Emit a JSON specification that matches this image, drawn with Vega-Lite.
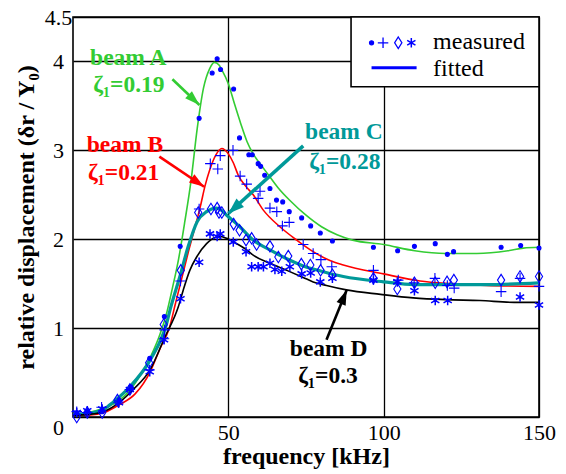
{
  "$schema": "https://vega.github.io/schema/vega-lite/v6.json",
  "width": 466,
  "height": 400,
  "autosize": {"type": "none"},
  "padding": {"left": 73, "top": 17, "right": 27, "bottom": 57},
  "background": "white",
  "config": {
    "font": "'Liberation Serif', 'Times New Roman', Times, 'DejaVu Serif', serif",
    "view": {"stroke": "#000", "strokeWidth": 1.6},
    "axis": {
      "labelFont": "'Liberation Serif', 'Times New Roman', Times, 'DejaVu Serif', serif", "labelFontSize": 22, "labelColor": "#000",
      "titleFont": "'Liberation Serif', 'Times New Roman', Times, 'DejaVu Serif', serif", "titleFontSize": 24, "titleFontWeight": "bold", "titleColor": "#000",
      "grid": true, "gridColor": "#000", "gridWidth": 1.3, "gridOpacity": 1,
      "ticks": false, "domain": false, "labelFlush": false, "labelOverlap": false
    }
  },
  "datasets": {
    "fitted": [
      {"beam":"A","f":0,"y":0.03},{"beam":"A","f":5,"y":0.05},{"beam":"A","f":10,"y":0.1},{"beam":"A","f":15,"y":0.19},{"beam":"A","f":20,"y":0.38},{"beam":"A","f":25,"y":0.68},{"beam":"A","f":28,"y":0.93},{"beam":"A","f":30,"y":1.15},{"beam":"A","f":32,"y":1.45},{"beam":"A","f":34,"y":1.78},{"beam":"A","f":36,"y":2.2},{"beam":"A","f":38,"y":2.66},{"beam":"A","f":40,"y":3.25},{"beam":"A","f":42,"y":3.7},{"beam":"A","f":44,"y":3.92},{"beam":"A","f":45.5,"y":3.99},{"beam":"A","f":47,"y":3.96},{"beam":"A","f":48,"y":3.9},{"beam":"A","f":50,"y":3.75},{"beam":"A","f":52,"y":3.52},{"beam":"A","f":54,"y":3.3},{"beam":"A","f":56,"y":3.1},{"beam":"A","f":58,"y":2.96},{"beam":"A","f":60,"y":2.86},{"beam":"A","f":63,"y":2.72},{"beam":"A","f":66,"y":2.58},{"beam":"A","f":70,"y":2.43},{"beam":"A","f":75,"y":2.27},{"beam":"A","f":80,"y":2.14},{"beam":"A","f":85,"y":2.05},{"beam":"A","f":90,"y":1.99},{"beam":"A","f":100,"y":1.94},{"beam":"A","f":110,"y":1.87},{"beam":"A","f":120,"y":1.84},{"beam":"A","f":130,"y":1.84},{"beam":"A","f":140,"y":1.87},{"beam":"A","f":145,"y":1.9},{"beam":"A","f":150,"y":1.91},
      {"beam":"B","f":0,"y":0.02},{"beam":"B","f":5,"y":0.02},{"beam":"B","f":10,"y":0.05},{"beam":"B","f":15,"y":0.14},{"beam":"B","f":20,"y":0.26},{"beam":"B","f":25,"y":0.52},{"beam":"B","f":28,"y":0.77},{"beam":"B","f":31,"y":1.0},{"beam":"B","f":33,"y":1.28},{"beam":"B","f":35,"y":1.56},{"beam":"B","f":37,"y":1.84},{"beam":"B","f":39,"y":2.1},{"beam":"B","f":41,"y":2.37},{"beam":"B","f":42.5,"y":2.6},{"beam":"B","f":44,"y":2.78},{"beam":"B","f":46,"y":2.95},{"beam":"B","f":47.9,"y":3.02},{"beam":"B","f":50,"y":2.96},{"beam":"B","f":51.6,"y":2.86},{"beam":"B","f":53.2,"y":2.72},{"beam":"B","f":55.5,"y":2.6},{"beam":"B","f":58,"y":2.5},{"beam":"B","f":61.2,"y":2.33},{"beam":"B","f":66.6,"y":2.14},{"beam":"B","f":72,"y":1.99},{"beam":"B","f":77.3,"y":1.86},{"beam":"B","f":82.7,"y":1.76},{"beam":"B","f":87,"y":1.71},{"beam":"B","f":100,"y":1.61},{"beam":"B","f":111.7,"y":1.53},{"beam":"B","f":122,"y":1.5},{"beam":"B","f":133,"y":1.48},{"beam":"B","f":150,"y":1.47},
      {"beam":"C","f":0,"y":0.03},{"beam":"C","f":5,"y":0.04},{"beam":"C","f":10,"y":0.09},{"beam":"C","f":13,"y":0.17},{"beam":"C","f":18.3,"y":0.34},{"beam":"C","f":24.8,"y":0.64},{"beam":"C","f":30.2,"y":1.06},{"beam":"C","f":31.2,"y":1.2},{"beam":"C","f":34.4,"y":1.58},{"beam":"C","f":37.1,"y":1.92},{"beam":"C","f":40,"y":2.2},{"beam":"C","f":43,"y":2.31},{"beam":"C","f":46.2,"y":2.35},{"beam":"C","f":48,"y":2.32},{"beam":"C","f":49.5,"y":2.27},{"beam":"C","f":53.7,"y":2.14},{"beam":"C","f":58,"y":1.99},{"beam":"C","f":63.4,"y":1.88},{"beam":"C","f":68.8,"y":1.78},{"beam":"C","f":74.1,"y":1.7},{"beam":"C","f":80,"y":1.64},{"beam":"C","f":87,"y":1.58},{"beam":"C","f":100,"y":1.52},{"beam":"C","f":110,"y":1.49},{"beam":"C","f":133,"y":1.49},{"beam":"C","f":150,"y":1.51},
      {"beam":"D","f":0,"y":0.02},{"beam":"D","f":5,"y":0.03},{"beam":"D","f":9.8,"y":0.06},{"beam":"D","f":15.1,"y":0.17},{"beam":"D","f":19.4,"y":0.31},{"beam":"D","f":24.8,"y":0.53},{"beam":"D","f":29.6,"y":0.9},{"beam":"D","f":33.9,"y":1.24},{"beam":"D","f":35.5,"y":1.43},{"beam":"D","f":37.6,"y":1.65},{"beam":"D","f":39.8,"y":1.8},{"beam":"D","f":43,"y":1.95},{"beam":"D","f":45.7,"y":2.02},{"beam":"D","f":47.5,"y":2.03},{"beam":"D","f":49.5,"y":2.01},{"beam":"D","f":51.6,"y":1.97},{"beam":"D","f":55.9,"y":1.88},{"beam":"D","f":58,"y":1.82},{"beam":"D","f":63.4,"y":1.73},{"beam":"D","f":68.8,"y":1.65},{"beam":"D","f":74.1,"y":1.57},{"beam":"D","f":77.3,"y":1.52},{"beam":"D","f":81.6,"y":1.48},{"beam":"D","f":88,"y":1.43},{"beam":"D","f":99,"y":1.38},{"beam":"D","f":109.5,"y":1.34},{"beam":"D","f":120,"y":1.32},{"beam":"D","f":131,"y":1.31},{"beam":"D","f":142,"y":1.29},{"beam":"D","f":150,"y":1.29}
    ],
    "measured": [
      {"beam":"A","f":1.2,"y":0.05},{"beam":"A","f":4.6,"y":0.06},{"beam":"A","f":9.4,"y":0.06},{"beam":"A","f":14.8,"y":0.19},{"beam":"A","f":18.6,"y":0.34},{"beam":"A","f":24.7,"y":0.66},{"beam":"A","f":29.4,"y":1.13},{"beam":"A","f":34.5,"y":1.92},{"beam":"A","f":40.6,"y":3.36},{"beam":"A","f":44.8,"y":3.87},{"beam":"A","f":46.4,"y":4.03},{"beam":"A","f":47.5,"y":3.91},{"beam":"A","f":51.7,"y":3.69},{"beam":"A","f":53.6,"y":3.14},{"beam":"A","f":56.6,"y":2.95},{"beam":"A","f":57.7,"y":2.95},{"beam":"A","f":59.6,"y":2.85},{"beam":"A","f":60.4,"y":2.82},{"beam":"A","f":61.7,"y":2.72},{"beam":"A","f":63.4,"y":2.57},{"beam":"A","f":65.5,"y":2.44},{"beam":"A","f":67.5,"y":2.42},{"beam":"A","f":69.6,"y":2.31},{"beam":"A","f":73.6,"y":2.24},{"beam":"A","f":76.5,"y":2.15},{"beam":"A","f":79.6,"y":2.07},{"beam":"A","f":83.5,"y":1.98},{"beam":"A","f":96.7,"y":1.91},{"beam":"A","f":104.5,"y":1.87},{"beam":"A","f":109.9,"y":1.92},{"beam":"A","f":116.6,"y":1.95},{"beam":"A","f":120.5,"y":1.83},{"beam":"A","f":122.5,"y":1.86},{"beam":"A","f":137.8,"y":1.91},{"beam":"A","f":144.1,"y":1.93},{"beam":"A","f":150,"y":1.9},
      {"beam":"B","f":1.2,"y":0.06},{"beam":"B","f":4.6,"y":0.05},{"beam":"B","f":9.2,"y":0.11},{"beam":"B","f":14.6,"y":0.16},{"beam":"B","f":18.3,"y":0.31},{"beam":"B","f":24.6,"y":0.53},{"beam":"B","f":29.3,"y":0.88},{"beam":"B","f":29.5,"y":0.98},{"beam":"B","f":34.6,"y":1.53},{"beam":"B","f":40.6,"y":2.34},{"beam":"B","f":44.2,"y":2.85},{"beam":"B","f":46.6,"y":2.79},{"beam":"B","f":47.4,"y":2.94},{"beam":"B","f":51.5,"y":3.0},{"beam":"B","f":53.8,"y":2.71},{"beam":"B","f":55.9,"y":2.62},{"beam":"B","f":59.6,"y":2.46},{"beam":"B","f":60.2,"y":2.54},{"beam":"B","f":63.4,"y":2.35},{"beam":"B","f":65.6,"y":2.31},{"beam":"B","f":67.4,"y":2.15},{"beam":"B","f":69.6,"y":2.19},{"beam":"B","f":74.1,"y":1.94},{"beam":"B","f":77.3,"y":1.84},{"beam":"B","f":79.8,"y":1.77},{"beam":"B","f":83.3,"y":1.69},{"beam":"B","f":96.7,"y":1.65},{"beam":"B","f":104.7,"y":1.54},{"beam":"B","f":109.8,"y":1.51},{"beam":"B","f":116.5,"y":1.56},{"beam":"B","f":120.5,"y":1.48},{"beam":"B","f":122.7,"y":1.45},{"beam":"B","f":137.8,"y":1.41},{"beam":"B","f":143.9,"y":1.56},{"beam":"B","f":150,"y":1.47},
      {"beam":"C","f":1.2,"y":0.0},{"beam":"C","f":4.6,"y":0.05},{"beam":"C","f":9.4,"y":0.05},{"beam":"C","f":14.3,"y":0.19},{"beam":"C","f":18.3,"y":0.31},{"beam":"C","f":24.5,"y":0.61},{"beam":"C","f":29.2,"y":1.04},{"beam":"C","f":34.7,"y":1.65},{"beam":"C","f":40.3,"y":2.3},{"beam":"C","f":44.4,"y":2.34},{"beam":"C","f":46.4,"y":2.35},{"beam":"C","f":47.0,"y":2.3},{"beam":"C","f":47.9,"y":2.3},{"beam":"C","f":51.7,"y":2.17},{"beam":"C","f":53.6,"y":2.1},{"beam":"C","f":55.7,"y":1.99},{"beam":"C","f":57.5,"y":2.01},{"beam":"C","f":59.1,"y":1.94},{"beam":"C","f":63.4,"y":1.92},{"beam":"C","f":66.1,"y":1.8},{"beam":"C","f":69.3,"y":1.81},{"beam":"C","f":73.5,"y":1.72},{"beam":"C","f":76.4,"y":1.71},{"beam":"C","f":79.7,"y":1.65},{"beam":"C","f":83.5,"y":1.6},{"beam":"C","f":96.7,"y":1.56},{"beam":"C","f":104.4,"y":1.44},{"beam":"C","f":109.9,"y":1.51},{"beam":"C","f":116.6,"y":1.51},{"beam":"C","f":120.4,"y":1.52},{"beam":"C","f":122.6,"y":1.54},{"beam":"C","f":137.8,"y":1.54},{"beam":"C","f":143.9,"y":1.58},{"beam":"C","f":150,"y":1.58},
      {"beam":"D","f":1.2,"y":0.05},{"beam":"D","f":4.6,"y":0.07},{"beam":"D","f":9.4,"y":0.09},{"beam":"D","f":14.8,"y":0.16},{"beam":"D","f":18.3,"y":0.31},{"beam":"D","f":24.7,"y":0.51},{"beam":"D","f":29.3,"y":0.87},{"beam":"D","f":34.6,"y":1.33},{"beam":"D","f":40.6,"y":1.74},{"beam":"D","f":44.1,"y":2.06},{"beam":"D","f":46.4,"y":2.03},{"beam":"D","f":47.4,"y":2.06},{"beam":"D","f":51.6,"y":1.97},{"beam":"D","f":55.7,"y":1.86},{"beam":"D","f":57.5,"y":1.69},{"beam":"D","f":59.6,"y":1.69},{"beam":"D","f":61.3,"y":1.69},{"beam":"D","f":63.4,"y":1.73},{"beam":"D","f":65.0,"y":1.66},{"beam":"D","f":67.2,"y":1.64},{"beam":"D","f":69.8,"y":1.69},{"beam":"D","f":73.6,"y":1.61},{"beam":"D","f":76.5,"y":1.62},{"beam":"D","f":79.6,"y":1.52},{"beam":"D","f":83.5,"y":1.56},{"beam":"D","f":96.7,"y":1.54},{"beam":"D","f":104.4,"y":1.52},{"beam":"D","f":109.9,"y":1.42},{"beam":"D","f":116.6,"y":1.31},{"beam":"D","f":120.6,"y":1.31},{"beam":"D","f":143.9,"y":1.35},{"beam":"D","f":150,"y":1.26}
    ],
    "legsym": [
      {"beam":"A","f":96.1,"y":4.21},{"beam":"B","f":99.8,"y":4.21},{"beam":"C","f":104.7,"y":4.21},{"beam":"D","f":108.9,"y":4.21}
    ],
    "legline": [{"f":96.1,"y":3.93},{"f":110.6,"y":3.93}],
    "legtext": [{"text":"measured","f":115.9,"y":4.215},{"text":"fitted","f":115.9,"y":3.92}],
    "legbox": [{"f":89.5,"f2":150,"y":3.715,"y2":4.5}],
    "labels": [
      {"beam":"A","text":"beam A","f":17.8,"y":4.04},{"beam":"A","text":"ζ₁=0.19","f":18.0,"y":3.73},
      {"beam":"B","text":"beam B","f":16.7,"y":3.06},{"beam":"B","text":"ζ₁=0.21","f":16.3,"y":2.75},
      {"beam":"C","text":"beam C","f":87.2,"y":3.21},{"beam":"C","text":"ζ₁=0.28","f":87.5,"y":2.87},
      {"beam":"D","text":"beam D","f":82.3,"y":0.76},{"beam":"D","text":"ζ₁=0.3","f":82.1,"y":0.46}
    ],
    "arrows": [
      {"beam":"A","f":32.0,"y":3.8,"f2":40.7,"y2":3.51},
      {"beam":"B","f":27.8,"y":2.93,"f2":42.2,"y2":2.59},
      {"beam":"C","f":74.1,"y":3.05,"f2":50.0,"y2":2.29},
      {"beam":"D","f":81.6,"y":0.87,"f2":88.1,"y2":1.43}
    ]
  },
  "encoding": {
    "x": {"field": "f", "type": "quantitative",
      "scale": {"domain": [0, 150], "nice": false, "zero": false},
      "axis": {"values": [50, 100, 150], "title": "frequency [kHz]", "labelPadding": 5, "titlePadding": 1}},
    "y": {"field": "y", "type": "quantitative",
      "scale": {"domain": [0, 4.5], "nice": false, "zero": false},
      "axis": {"values": [0, 1, 2, 3, 4, 4.5], "format": ".1~f", "title": "relative displacement (δr / Y₀)", "labelAlign": "center", "labelPadding": 15, "titlePadding": 6,
        "labelBaseline": {"condition": {"test": "datum.value === 0", "value": "top"}, "value": "middle"}}}
  },
  "layer": [
    {"data": {"name": "legbox"}, "mark": {"type": "rect", "fill": "white", "stroke": "#000", "strokeWidth": 1.6},
     "encoding": {"x2": {"field": "f2"}, "y2": {"field": "y2"}}},
    {"data": {"name": "fitted"}, "mark": {"type": "line", "interpolate": "monotone"},
     "encoding": {
       "color": {"field": "beam", "type": "nominal", "scale": {"domain": ["A","B","C","D"], "range": ["#33cc33","#ff0000","#009999","#000000"]}, "legend": null},
       "strokeWidth": {"condition": {"test": "datum.beam === 'C'", "value": 3.2}, "value": 1.6},
       "order": {"field": "f", "type": "quantitative"}}},
    {"data": {"name": "measured"}, "mark": {"type": "point", "filled": false, "opacity": 1},
     "encoding": {
       "shape": {"field": "beam", "type": "nominal", "scale": {"domain": ["A","B","C","D"], "range": ["circle", "M-1,0L1,0M0,-1L0,1", "M0,-1.15L0.72,0L0,1.15L-0.72,0Z", "M0,-1L0,1M-0.87,-0.5L0.87,0.5M-0.87,0.5L0.87,-0.5"]}, "legend": null},
       "size": {"condition": [{"test": "datum.beam === 'A'", "value": 16}, {"test": "datum.beam === 'B'", "value": 110}, {"test": "datum.beam === 'C'", "value": 100}], "value": 90},
       "fill": {"condition": {"test": "datum.beam === 'A'", "value": "#0000ff"}, "value": "transparent"},
       "stroke": {"value": "#0000ff"},
       "strokeWidth": {"condition": {"test": "datum.beam === 'D'", "value": 1.5}, "value": 1.1}}},
    {"data": {"name": "legsym"}, "mark": {"type": "point", "filled": false, "opacity": 1},
     "encoding": {
       "shape": {"field": "beam", "type": "nominal", "legend": null},
       "size": {"condition": [{"test": "datum.beam === 'A'", "value": 16}, {"test": "datum.beam === 'B'", "value": 110}, {"test": "datum.beam === 'C'", "value": 100}], "value": 90},
       "fill": {"condition": {"test": "datum.beam === 'A'", "value": "#0000ff"}, "value": "transparent"},
       "stroke": {"value": "#0000ff"},
       "strokeWidth": {"condition": {"test": "datum.beam === 'D'", "value": 1.5}, "value": 1.3}}},
    {"data": {"name": "arrows"}, "mark": {"type": "rule"},
     "encoding": {
       "x2": {"field": "f2"}, "y2": {"field": "y2"},
       "color": {"field": "beam", "type": "nominal", "legend": null},
       "strokeWidth": {"condition": {"test": "datum.beam === 'C'", "value": 3.5}, "value": 2.6}}},
    {"data": {"name": "arrows"}, "transform": [{"filter": "datum.beam === 'A'"}],
     "mark": {"type": "point", "shape": "M0,0L-0.65,2L0.65,2Z", "filled": true, "opacity": 1, "size": 225, "angle": 133.6},
     "encoding": {"x": {"field": "f2", "type": "quantitative"}, "y": {"field": "y2", "type": "quantitative"}, "color": {"field": "beam", "type": "nominal", "legend": null}}},
    {"data": {"name": "arrows"}, "transform": [{"filter": "datum.beam === 'B'"}],
     "mark": {"type": "point", "shape": "M0,0L-0.65,2L0.65,2Z", "filled": true, "opacity": 1, "size": 225, "angle": 123.9},
     "encoding": {"x": {"field": "f2", "type": "quantitative"}, "y": {"field": "y2", "type": "quantitative"}, "color": {"field": "beam", "type": "nominal", "legend": null}}},
    {"data": {"name": "arrows"}, "transform": [{"filter": "datum.beam === 'C'"}],
     "mark": {"type": "point", "shape": "M0,0L-0.7,2L0.7,2Z", "filled": true, "opacity": 1, "size": 256, "angle": 228},
     "encoding": {"x": {"field": "f2", "type": "quantitative"}, "y": {"field": "y2", "type": "quantitative"}, "color": {"field": "beam", "type": "nominal", "legend": null}}},
    {"data": {"name": "arrows"}, "transform": [{"filter": "datum.beam === 'D'"}],
     "mark": {"type": "point", "shape": "M0,0L-0.65,2L0.65,2Z", "filled": true, "opacity": 1, "size": 225, "angle": 21.8},
     "encoding": {"x": {"field": "f2", "type": "quantitative"}, "y": {"field": "y2", "type": "quantitative"}, "color": {"field": "beam", "type": "nominal", "legend": null}}},
    {"data": {"name": "labels"}, "mark": {"type": "text", "font": "'Liberation Serif', 'Times New Roman', Times, 'DejaVu Serif', serif", "fontSize": 23.5, "fontWeight": "bold", "align": "center", "baseline": "middle"},
     "encoding": {"text": {"field": "text"}, "color": {"field": "beam", "type": "nominal", "legend": null}}},
    {"data": {"name": "legline"}, "mark": {"type": "line", "color": "#0000ff", "strokeWidth": 3}, "encoding": {}},
    {"data": {"name": "legtext"}, "mark": {"type": "text", "font": "'Liberation Serif', 'Times New Roman', Times, 'DejaVu Serif', serif", "fontSize": 24, "align": "left", "baseline": "middle", "color": "#000"},
     "encoding": {"text": {"field": "text"}}}
  ]
}
